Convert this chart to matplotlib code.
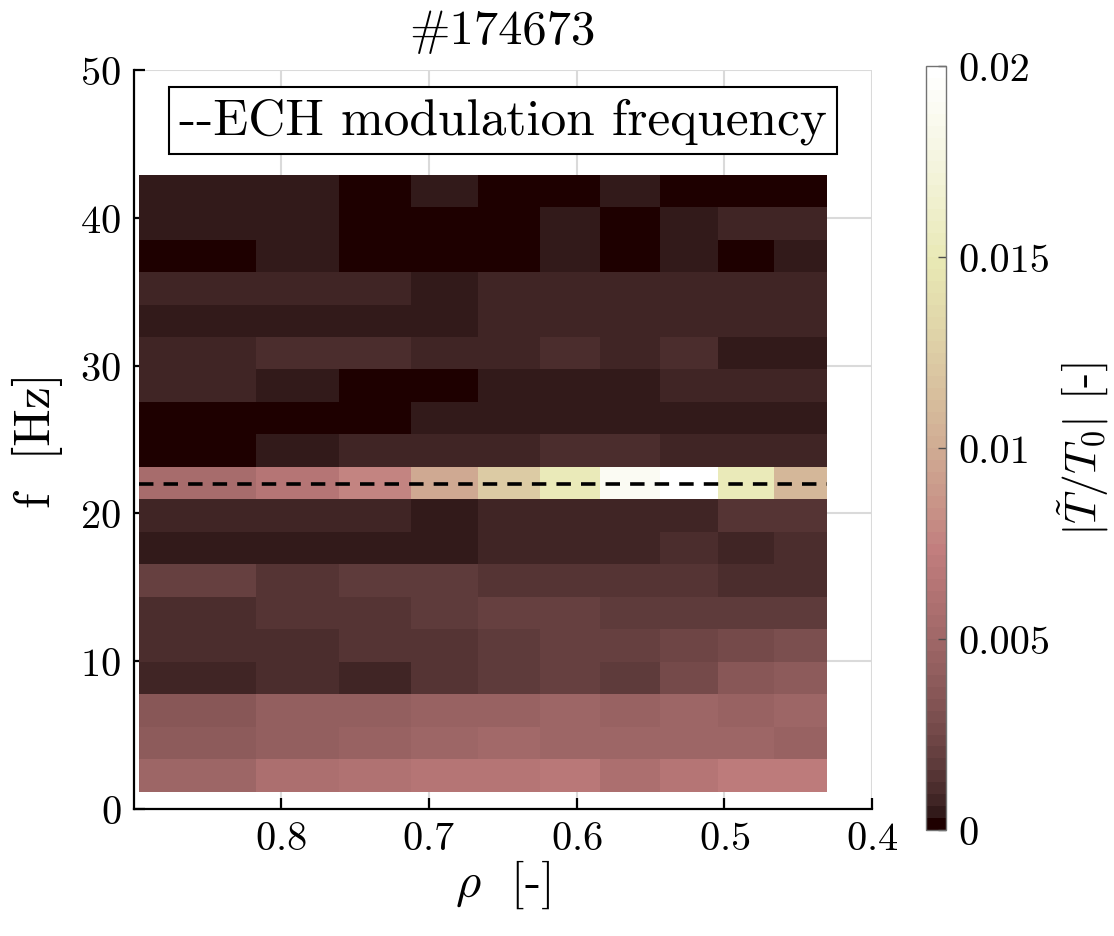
import numpy as np
import matplotlib
matplotlib.use('Agg')
import matplotlib.pyplot as plt
from matplotlib.colors import Normalize

plt.rcParams['font.family'] = 'serif'
plt.rcParams['font.serif'] = ['cmr10']
plt.rcParams['mathtext.fontset'] = 'cm'
plt.rcParams['axes.formatter.use_mathtext'] = True

shot = '#174673'
f_mod = 22.0   # Hz, ECH modulation

# cell edges (rho goes from the edge inwards)
rho_edges = [0.896, 0.817, 0.7605, 0.712, 0.667, 0.625, 0.584, 0.5435, 0.504, 0.4665, 0.4305]
f_edges = [1.15, 3.35, 5.55, 7.75, 9.95, 12.15, 14.35, 16.55, 18.75, 20.95,
           23.15, 25.35, 27.55, 29.75, 31.95, 34.15, 36.35, 38.55, 40.75, 42.95]

# |T~/T0| per frequency bin (bottom row first), columns follow rho_edges
amp = [
    [.0048, .0058, .0061, .0064, .0064, .0067, .0059, .0064, .0070, .0070],   # 2.2 Hz
    [.0039, .0042, .0045, .0048, .0052, .0048, .0048, .0048, .0048, .0045],   # 4.4
    [.0036, .0042, .0042, .0045, .0045, .0048, .0045, .0048, .0045, .0048],   # 6.6
    [.00078, .0011, .00078, .0014, .0017, .0020, .0017, .0027, .0036, .0039], # 8.8
    [.0011, .0011, .0014, .0014, .0017, .0020, .0020, .0023, .0026, .0029],   # 11.0
    [.0011, .0014, .0014, .0017, .0020, .0020, .0017, .0017, .0017, .0017],   # 13.2
    [.0020, .0014, .0017, .0017, .0014, .0014, .0014, .0014, .0011, .0011],   # 15.4
    [.00047, .00047, .00047, .00047, .00078, .00078, .00078, .0011, .00078, .0011],  # 17.6
    [.00078, .00078, .00078, .00047, .00078, .00078, .00078, .00078, .0014, .0014],  # 19.8
    [.0054, .0063, .0078, .0098, .0123, .0151, .0189, .0199, .0151, .0108],   # 22.0
    [.00015, .00047, .00078, .00078, .00078, .0011, .0011, .00078, .00078, .00078],  # 24.2
    [.00015, .00015, .00015, .00047, .00047, .00047, .00047, .00047, .00047, .00047],  # 26.4
    [.00078, .00047, .00015, .00015, .00047, .00047, .00047, .00078, .00078, .00078],  # 28.6
    [.00078, .0011, .0011, .00078, .00078, .0011, .00078, .0011, .00047, .00047],    # 30.8
    [.00047, .00047, .00047, .00047, .00078, .00078, .00078, .00078, .00078, .00078],  # 33.0
    [.00078, .00078, .00078, .00047, .00078, .00078, .00078, .00078, .00078, .00078],  # 35.2
    [.00015, .00047, .00015, .00015, .00015, .00047, .00015, .00047, .00015, .00047],  # 37.4
    [.00047, .00047, .00015, .00015, .00015, .00047, .00015, .00047, .00078, .00078],  # 39.6
    [.00047, .00047, .00015, .00047, .00015, .00015, .00047, .00015, .00015, .00015],  # 41.8
]

x_ticks = [0.4, 0.5, 0.6, 0.7, 0.8]
y_ticks = [0, 10, 20, 30, 40, 50]
c_ticks = [0, 0.005, 0.01, 0.015, 0.02]
c_labels = ['0', '0.005', '0.01', '0.015', '0.02']

fig = plt.figure(figsize=(11.14, 9.37), dpi=100)
ax = fig.add_axes([0.1200, 0.1358, 0.6628, 0.7879])
cax = fig.add_axes([0.8312, 0.1131, 0.0180, 0.8154])

cmap = plt.get_cmap('pink', 64)
mesh = ax.pcolormesh(rho_edges, f_edges, np.array(amp), cmap=cmap,
                     norm=Normalize(0, 0.02), shading='flat', antialiased=False)

# modulation frequency marker
line, = ax.plot([rho_edges[0], rho_edges[-1]], [f_mod, f_mod], color='k',
                lw=2.6, ls=(0, (4, 2.8)), zorder=3)

ax.set_xlim(0.8998, 0.4)
ax.set_ylim(0, 50)
ax.set_xticks(x_ticks)
ax.set_yticks(y_ticks)
ax.set_axisbelow(True)
ax.grid(True, color='#dadada', lw=1.5)
for s in ['top', 'right']:
    ax.spines[s].set_visible(False)
for s in ['left', 'bottom']:
    ax.spines[s].set_linewidth(1.6)
ax.tick_params(direction='in', length=8, width=1.6, labelsize=29, pad=9)

ax.set_xlabel(r'$\rho\ $ [-]', fontsize=35)
ax.xaxis.set_label_coords(0.5, -0.066)
ax.set_ylabel('f  [Hz]', fontsize=36)
ax.yaxis.set_label_coords(-0.096, 0.5)
ax.set_title(shot, fontsize=35, pad=20)

leg = ax.legend([line], ['--ECH modulation frequency'], loc='upper center',
                handlelength=0, handletextpad=0, fontsize=37, fancybox=False,
                framealpha=1, edgecolor='k', borderaxespad=0.32, borderpad=0.2)
leg.get_frame().set_linewidth(1.5)

cbar = fig.colorbar(mesh, cax=cax, ticks=c_ticks)
cbar.ax.set_yticklabels(c_labels)
cbar.outline.set_linewidth(1)
cbar.outline.set_edgecolor('0.45')
cax.tick_params(direction='in', length=6, width=1, color='0.3', labelsize=29, pad=9)
cbar.set_label(r'$|\tilde{T}/T_0|$ [-]', fontsize=33)
cax.yaxis.set_label_coords(6.45, 0.5)

fig.savefig('out.png', dpi=100)
